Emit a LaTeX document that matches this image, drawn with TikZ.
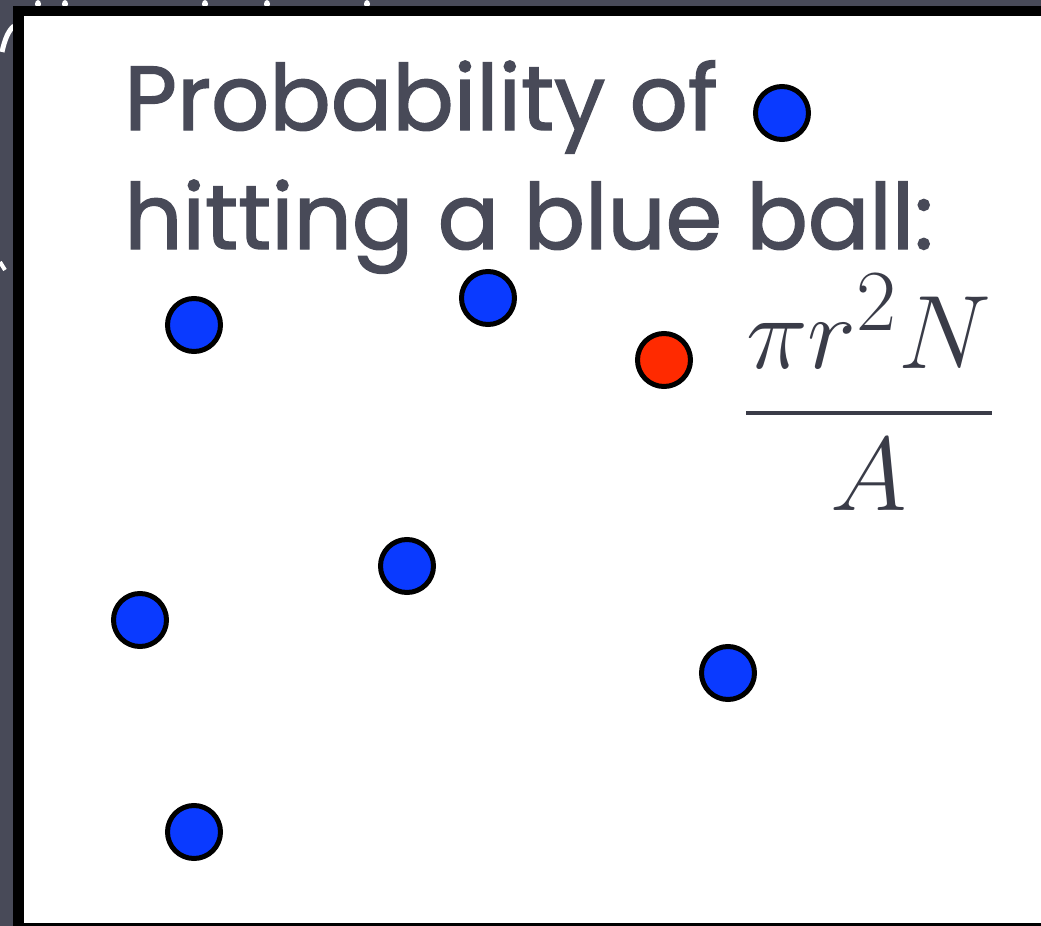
\documentclass[tikz,border=0pt]{standalone}
\usepackage{amsmath}
\usepackage{fontspec}
\newfontfamily\handfont{Poppins}[FakeBold=1.5]
\definecolor{bggray}{HTML}{484A58}
\definecolor{txtgray}{HTML}{484A58}
\definecolor{mathgray}{HTML}{3A3C48}
\definecolor{ballblue}{HTML}{0A3AFF}
\definecolor{ballred}{HTML}{FF2A00}
\tikzset{
  ball/.style={circle, draw=black, line width=2.5pt, minimum size=53pt*0.5, inner sep=0pt},
  blueball/.style={ball, fill=ballblue},
  redball/.style={ball, fill=ballred},
  headline/.style={anchor=base west, inner sep=0pt, text=txtgray, font=\handfont\fontsize{45.5}{52}\selectfont}
}
\begin{document}
\begin{tikzpicture}[x=0.5pt,y=-0.5pt]
\useasboundingbox (0,0) rectangle (1041,926);
% background
\fill[bggray] (0,0) rectangle (1041,926);
% white background marks
\foreach \xx in {38,65,205,267,367}{
  \fill[white] (\xx,4) ellipse (3 and 4);
}
\draw[white, line width=2.5pt] (2,52) .. controls (5,38) and (9,30) .. (14,26);
\draw[white, line width=2pt] (0,262) -- (5,270);
% frame
\fill[black] (13,6) rectangle (1041,926);
\fill[white] (24,16) rectangle (1041,923);
% text
\node[headline] (l1) at (124,130) {Probability of};
\node[headline] (l2) at (124,249) {hitting a blue ball:};
% fraction
\node[anchor=base, inner sep=0pt, text=mathgray] (frac) at (869,439) {\scalebox{2.1}{\fontsize{24.88}{30}\selectfont$\genfrac{}{}{0.95pt}{0}{\pi r^2 N}{A}$}};
% balls
\node[blueball] (b1) at (782,113) {};
\node[blueball] (b2) at (194,325) {};
\node[blueball] (b3) at (488,298) {};
\node[redball]  (r1) at (664,360) {};
\node[blueball] (b4) at (407,566) {};
\node[blueball] (b5) at (140,620) {};
\node[blueball] (b6) at (728,673) {};
\node[blueball] (b7) at (194,832) {};
\end{tikzpicture}
\end{document}
